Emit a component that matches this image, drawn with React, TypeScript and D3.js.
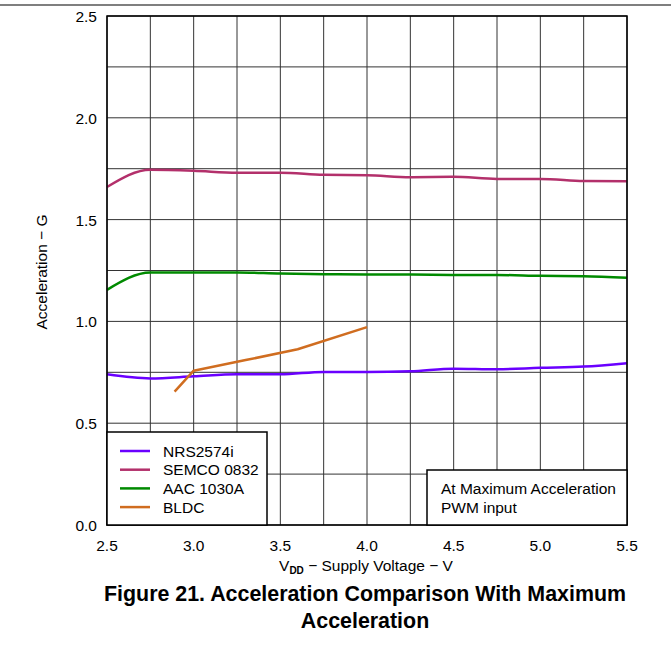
import {useEffect, useRef} from 'react';
import * as d3 from 'd3';

const voltages = [2.5, 2.75, 3.0, 3.25, 3.5, 3.75, 4.0, 4.25, 4.5, 4.75, 5.0, 5.25, 5.5];
const nrs = [0.74, 0.72, 0.73, 0.74, 0.74, 0.752, 0.752, 0.755, 0.768, 0.765, 0.772, 0.778, 0.795];
const semco = [1.66, 1.745, 1.74, 1.73, 1.73, 1.72, 1.718, 1.708, 1.71, 1.7, 1.7, 1.69, 1.688];
const aac = [1.155, 1.24, 1.24, 1.24, 1.235, 1.232, 1.23, 1.23, 1.228, 1.228, 1.224, 1.222, 1.215];
const bldcV = [2.89, 3.0, 3.3, 3.6, 4.0];
const bldc = [0.655, 0.758, 0.81, 0.863, 0.972];
const seriesNames = ['NRS2574i', 'SEMCO 0832', 'AAC 1030A', 'BLDC'];
const seriesColors = ['#6a00ff', '#b3306b', '#008a00', '#d06d20'];
const xTicks = [2.5, 3.0, 3.5, 4.0, 4.5, 5.0, 5.5];
const yTicks = [0, 0.5, 1.0, 1.5, 2.0, 2.5];

function App(){
	const ref = useRef<SVGSVGElement>(null);

	useEffect(()=>{
		const svg = d3.select(ref.current);
		svg.selectAll('*').remove();

		const left = 107, right = 627, top = 16, bottom = 525
			, font = '"Liberation Sans", Arial, sans-serif'
			, fs = 15.5
			, x = d3.scaleLinear().domain([2.5, 5.5]).range([left, right])
			, y = d3.scaleLinear().domain([0, 2.5]).range([bottom, top]);

		// top rule
		svg.append('line').attr('x1', 0).attr('x2', 671).attr('y1', 5).attr('y2', 5)
			.attr('stroke', '#000').attr('stroke-width', 1.2);

		// grid
		const g = svg.append('g');
		g.selectAll('line.v').data(d3.range(0, 13).map(i => 2.5 + i * 0.25)).enter().append('line')
			.attr('x1', d => x(d)).attr('x2', d => x(d)).attr('y1', top).attr('y2', bottom)
			.attr('stroke', '#333').attr('stroke-width', 1);
		g.selectAll('line.h').data(d3.range(0, 11).map(i => i * 0.25)).enter().append('line')
			.attr('y1', d => y(d)).attr('y2', d => y(d)).attr('x1', left).attr('x2', right)
			.attr('stroke', '#333').attr('stroke-width', 1);

		// series
		const smooth = d3.line<[number, number]>().x(d => x(d[0])).y(d => y(d[1])).curve(d3.curveMonotoneX)
			, straight = d3.line<[number, number]>().x(d => x(d[0])).y(d => y(d[1]));
		const data = [
			voltages.map((v, i) => [v, nrs[i]] as [number, number]),
			voltages.map((v, i) => [v, semco[i]] as [number, number]),
			voltages.map((v, i) => [v, aac[i]] as [number, number]),
			bldcV.map((v, i) => [v, bldc[i]] as [number, number])
		];
		data.forEach((d, i) => {
			svg.append('path')
				.attr('d', i === 3 ? straight(d) : smooth(d))
				.attr('fill', 'none').attr('stroke', seriesColors[i]).attr('stroke-width', 2.5)
				.attr('stroke-linejoin', 'round');
		});

		// frame
		svg.append('rect').attr('x', left).attr('y', top).attr('width', right - left).attr('height', bottom - top)
			.attr('fill', 'none').attr('stroke', '#000').attr('stroke-width', 1.5);

		// legend
		svg.append('rect').attr('x', 107).attr('y', 432).attr('width', 160).attr('height', 93)
			.attr('fill', '#fff').attr('stroke', '#000').attr('stroke-width', 1.5);
		seriesNames.forEach((n, i) => {
			const ly = 451 + i * 18.7;
			svg.append('line').attr('x1', 120).attr('x2', 150).attr('y1', ly).attr('y2', ly)
				.attr('stroke', seriesColors[i]).attr('stroke-width', 2.5);
			svg.append('text').attr('x', 163).attr('y', ly + 5.5).text(n)
				.attr('font-family', font).attr('font-size', fs);
		});

		// annotation
		svg.append('rect').attr('x', 427).attr('y', 470).attr('width', 200).attr('height', 55)
			.attr('fill', '#fff').attr('stroke', '#000').attr('stroke-width', 1.5);
		['At Maximum Acceleration', 'PWM input'].forEach((t, i) => {
			svg.append('text').attr('x', 441).attr('y', 494 + i * 19).text(t)
				.attr('font-family', font).attr('font-size', fs);
		});

		// ticks
		svg.selectAll('text.xt').data(xTicks).enter().append('text')
			.attr('x', d => x(d)).attr('y', 551).attr('text-anchor', 'middle')
			.attr('font-family', font).attr('font-size', fs).text(d => d.toFixed(1));
		svg.selectAll('text.yt').data(yTicks).enter().append('text')
			.attr('x', 97).attr('y', d => y(d) + 6).attr('text-anchor', 'end')
			.attr('font-family', font).attr('font-size', fs).text(d => d.toFixed(1));

		// axis titles
		const xl = svg.append('text').attr('x', 366).attr('y', 571).attr('text-anchor', 'middle')
			.attr('font-family', font).attr('font-size', fs);
		xl.append('tspan').text('V');
		xl.append('tspan').attr('font-size', 10).attr('font-weight', 'bold').attr('dy', 3).text('DD');
		xl.append('tspan').attr('dy', -3).text(' − Supply Voltage − V');

		svg.append('text').attr('transform', 'translate(47,272) rotate(-90)').attr('text-anchor', 'middle')
			.attr('font-family', font).attr('font-size', fs).text('Acceleration − G');

		// caption
		['Figure 21. Acceleration Comparison With Maximum', 'Acceleration'].forEach((t, i) => {
			svg.append('text').attr('x', 365).attr('y', 601 + i * 27).attr('text-anchor', 'middle')
				.attr('font-family', font).attr('font-size', 21.4).attr('font-weight', 'bold').text(t);
		});
	});

	return (<svg ref={ref} width={671} height={649}
		style={{position: 'absolute', left: 0, top: 0, background: '#fff'}}></svg>);
}

export default App;
